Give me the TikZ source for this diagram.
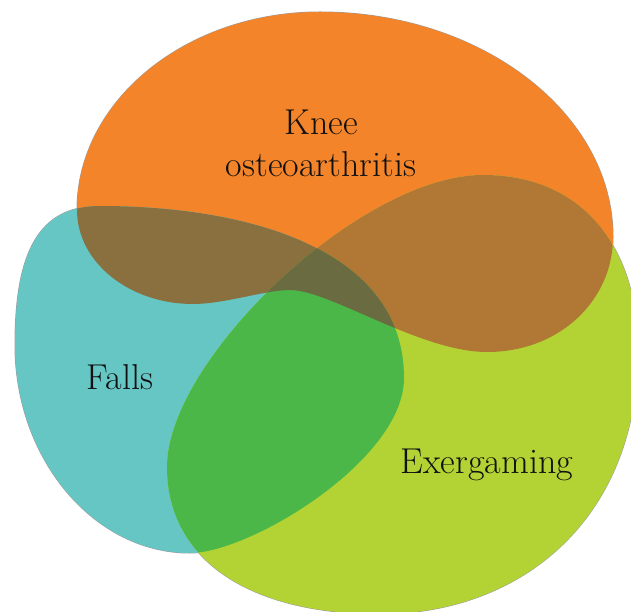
\documentclass[tikz,border=0pt]{standalone}
\usepackage{fontspec}
\usepackage{tikz}
\usepackage{xcolor}
\definecolor{cKnee}{HTML}{F4842A}
\definecolor{cFalls}{HTML}{66C6C4}
\definecolor{cExer}{HTML}{B3D334}
\definecolor{cKF}{HTML}{8A703E}
\definecolor{cKE}{HTML}{B07735}
\definecolor{cFE}{HTML}{4BB748}
\definecolor{cAll}{HTML}{6A6B40}
\definecolor{cEdge}{HTML}{9C9C9C}
\definecolor{cInk}{HTML}{111111}
\tikzset{
  edge/.style ={draw=cEdge,line width=1pt},
  lbl/.style  ={font=\fontsize{36}{42}\selectfont,text=cInk,inner sep=0pt,align=center},
}
% the three blobs, in pixel units (y down)
\newcommand\kneeblob{(320,12) .. controls (481,12) and (613,113) .. (613,237)
  .. controls (613,300) and (560,352) .. (487,352)
  .. controls (420,352) and (330,290) .. (290,290)
  .. controls (265,290) and (225,304) .. (193,304)
  .. controls (129,304) and (77,262) .. (77,210)
  .. controls (77,101) and (186,12) .. cycle}
\newcommand\fallsblob{(100,206) .. controls (250,206) and (404,250) .. (404,378)
  .. controls (404,460) and (250,553) .. (190,553)
  .. controls (94,553) and (15,459) .. (15,345)
  .. controls (15,250) and (40,206) .. cycle}
\newcommand\exerblob{(483,175) .. controls (585,175) and (638,250) .. (638,350)
  .. controls (638,520) and (520,614) .. (380,614)
  .. controls (250,614) and (167,560) .. (167,467)
  .. controls (167,360) and (360,175) .. cycle}
\begin{document}
\begin{tikzpicture}[x=1pt,y=-1pt]
\clip (0,0) rectangle (631,612);
\fill[white] (0,0) rectangle (631,612);
% grey rims first, fills on top keep only the outer half
\path[edge] \kneeblob;
\path[edge] \fallsblob;
\path[edge] \exerblob;
\fill[cKnee] \kneeblob;
\fill[cFalls] \fallsblob;
\fill[cExer] \exerblob;
% overlaps
\begin{scope}
  \clip \kneeblob;
  \fill[cKF] \fallsblob;
  \fill[cKE] \exerblob;
\end{scope}
\begin{scope}
  \clip \fallsblob;
  \fill[cFE] \exerblob;
  \clip \kneeblob;
  \fill[cAll] \exerblob;
\end{scope}
% labels
\node[lbl,anchor=base] (knee) at (321,177) {Knee\\osteoarthritis};
\node[lbl,anchor=base] (falls) at (120,389) {Falls};
\node[lbl,anchor=base] (exer) at (487,473) {Exergaming};
\end{tikzpicture}
\end{document}
